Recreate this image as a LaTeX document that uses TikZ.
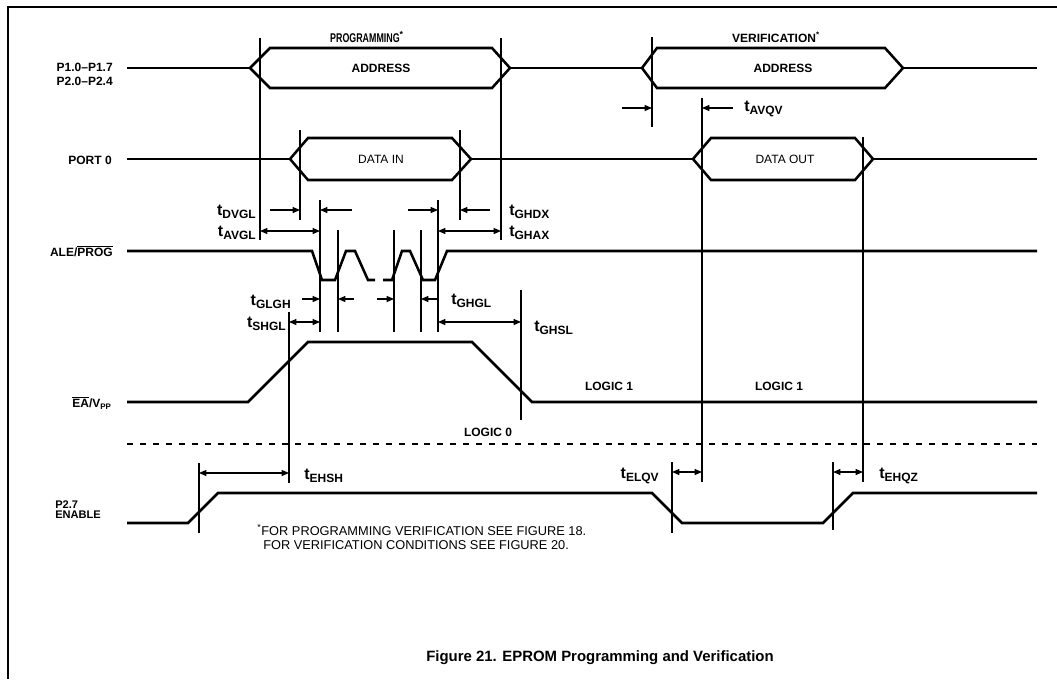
\documentclass[tikz,border=0pt]{standalone}
\usepackage{fontspec}
\setmainfont{Liberation Sans}
\usetikzlibrary{arrows.meta}
\tikzset{
  sig/.style={line width=1.9pt, line join=miter},
  refl/.style={line width=0.8pt},
  dimr/.style={line width=0.8pt,-{Triangle[length=5.5pt,width=4.5pt]}},
  dimb/.style={line width=0.8pt,{Triangle[length=5.5pt,width=4.5pt]}-{Triangle[length=5.5pt,width=4.5pt]}},
  lbl/.style={font=\fontsize{9}{9}\selectfont\bfseries, inner sep=0pt},
  txt/.style={font=\fontsize{9}{9}\selectfont, inner sep=0pt},
  tl/.style={inner sep=0pt},
}
\newcommand{\tsb}[1]{{\fontsize{12}{12}\selectfont\bfseries t}\raisebox{-2.5pt}{\fontsize{9}{9}\selectfont\bfseries #1}}
\begin{document}
\begin{tikzpicture}[x=0.75pt,y=-0.75pt]
\useasboundingbox (0,0) rectangle (1057,679);
% frame
\draw[line width=1.6pt] (1057,7) -- (8,7) -- (8,679);

% signal labels
\node[lbl, anchor=east, align=right, font=\fontsize{9}{10.5}\selectfont\bfseries] (lp1) at (113,74) {P1.0--P1.7\\P2.0--P2.4};
\node[lbl, anchor=east] (lp0) at (112,160) {PORT 0};
\node[lbl, anchor=east] (lale) at (113,251) {ALE/$\overline{\mbox{PROG}}$};
\node[lbl, anchor=east] (lea) at (112,403) {$\overline{\mbox{EA}}$/V\textsubscript{PP}};
\node[lbl, anchor=west, align=left, font=\fontsize{8.3}{7.6}\selectfont\bfseries] (lp27) at (55,510) {P2.7\\ENABLE};

% row 1: address
\draw[sig] (127,68) -- (250,68);
\draw[sig] (250,68) -- (270,48) -- (492,48) -- (510,68) -- (492,88) -- (270,88) -- cycle;
\draw[sig] (510,68) -- (642,68);
\draw[sig] (642,68) -- (657,48) -- (885,48) -- (903,68) -- (885,88) -- (657,88) -- cycle;
\draw[sig] (903,68) -- (1037,68);
\node[lbl] (addr1) at (381,68) {ADDRESS};
\node[lbl] (addr2) at (783,68) {ADDRESS};
\node[lbl, font=\fontsize{9.5}{9.5}\selectfont\bfseries] (prog) at (367,37) {\scalebox{0.7}[1]{PROGRAMMING}\textsuperscript{*}};
\node[lbl] (verif) at (776,37) {VERIFICATION\textsuperscript{*}};

% row 2: port 0
\draw[sig] (127,159) -- (290,159);
\draw[sig] (290,159) -- (308,138) -- (452,138) -- (471,159) -- (452,180) -- (308,180) -- cycle;
\draw[sig] (471,159) -- (693,159);
\draw[sig] (693,159) -- (711,138) -- (855,138) -- (873,159) -- (855,180) -- (711,180) -- cycle;
\draw[sig] (873,159) -- (1037,159);
\node[txt] (din) at (381,159) {DATA IN};
\node[txt] (dout) at (785,159) {DATA OUT};

% row 3: ALE/PROG
\draw[sig] (127,251) -- (312,251) -- (322,280) -- (335,280) -- (346,251) -- (355,251) -- (368,280) -- (375,280);
\draw[sig] (383,280) -- (392,280) -- (402,251) -- (410,251) -- (423,280) -- (435,280) -- (447,251) -- (1037,251);

% row 4: EA/Vpp
\draw[sig] (127,402) -- (248,402) -- (308,342) -- (472,342) -- (532,402) -- (1037,402);
\node[lbl] (l0) at (488,432) {LOGIC 0};
\node[lbl] (l1a) at (609,386) {LOGIC 1};
\node[lbl] (l1b) at (779,386) {LOGIC 1};

% dashed separator
\draw[line width=1.6pt, dash pattern=on 4.5pt off 5.2pt] (127,444) -- (1037,444);

% row 5: P2.7
\draw[sig] (127,523) -- (188,523) -- (218,493) -- (652,493) -- (682,523) -- (823,523) -- (853,493) -- (1037,493);

% reference verticals
\draw[refl] (260,38) -- (260,240);
\draw[refl] (501,38) -- (501,240);
\draw[refl] (300,130) -- (300,220);
\draw[refl] (460,130) -- (460,220);
\draw[refl] (320,200) -- (320,332);
\draw[refl] (338,230) -- (338,332);
\draw[refl] (394,230) -- (394,332);
\draw[refl] (421,230) -- (421,332);
\draw[refl] (438,200) -- (438,332);
\draw[refl] (289,312) -- (289,483);
\draw[refl] (521,290) -- (521,420);
\draw[refl] (652,37) -- (652,127);
\draw[refl] (702,98) -- (702,482);
\draw[refl] (863,137) -- (863,482);
\draw[refl] (199,463) -- (199,533);
\draw[refl] (672,462) -- (672,533);
\draw[refl] (833,462) -- (833,530);

% timing arrows
\draw[dimr] (270,210) -- (300,210);
\draw[dimb] (260,231) -- (320,231);
\draw[dimr] (352,210) -- (320,210);
\draw[dimr] (408,210) -- (438,210);
\draw[dimr] (490,210) -- (460,210);
\draw[dimb] (438,231) -- (501,231);
\draw[dimr] (302,299) -- (320,299);
\draw[dimr] (354,299) -- (338,299);
\draw[dimr] (377,299) -- (394,299);
\draw[dimr] (437,299) -- (421,299);
\draw[dimb] (289,322) -- (320,322);
\draw[dimb] (438,322) -- (521,322);
\draw[dimr] (622,108) -- (652,108);
\draw[dimr] (733,108) -- (702,108);
\draw[dimb] (199,473) -- (289,473);
\draw[dimb] (672,472) -- (702,472);
\draw[dimb] (833,472) -- (863,472);

% timing labels
\node[tl, anchor=east] (tdvgl) at (256,212) {\tsb{DVGL}};
\node[tl, anchor=east] (tavgl) at (256,233) {\tsb{AVGL}};
\node[tl, anchor=west] (tghdx) at (509,212) {\tsb{GHDX}};
\node[tl, anchor=west] (tghax) at (509,233) {\tsb{GHAX}};
\node[tl, anchor=east] (tglgh) at (291,302) {\tsb{GLGH}};
\node[tl, anchor=east] (tshgl) at (286,324) {\tsb{SHGL}};
\node[tl, anchor=west] (tghgl) at (451,301) {\tsb{GHGL}};
\node[tl, anchor=west] (tghsl) at (534,328) {\tsb{GHSL}};
\node[tl, anchor=west] (tavqv) at (744,109) {\tsb{AVQV}};
\node[tl, anchor=west] (tehsh) at (304,476) {\tsb{EHSH}};
\node[tl, anchor=east] (telqv) at (659,476) {\tsb{ELQV}};
\node[tl, anchor=west] (tehqz) at (879,476) {\tsb{EHQZ}};

% footnote and caption
\node[txt, anchor=west, font=\fontsize{9.6}{9.6}\selectfont] (fn1) at (257,530) {\textsuperscript{*}FOR PROGRAMMING VERIFICATION SEE FIGURE 18.};
\node[txt, anchor=west, font=\fontsize{9.6}{9.6}\selectfont] (fn2) at (263,545) {FOR VERIFICATION CONDITIONS SEE FIGURE 20.};
\node[txt, font=\fontsize{11.2}{11.2}\selectfont\bfseries] (cap) at (600,658) {Figure 21. EPROM Programming and Verification};
\end{tikzpicture}
\end{document}
